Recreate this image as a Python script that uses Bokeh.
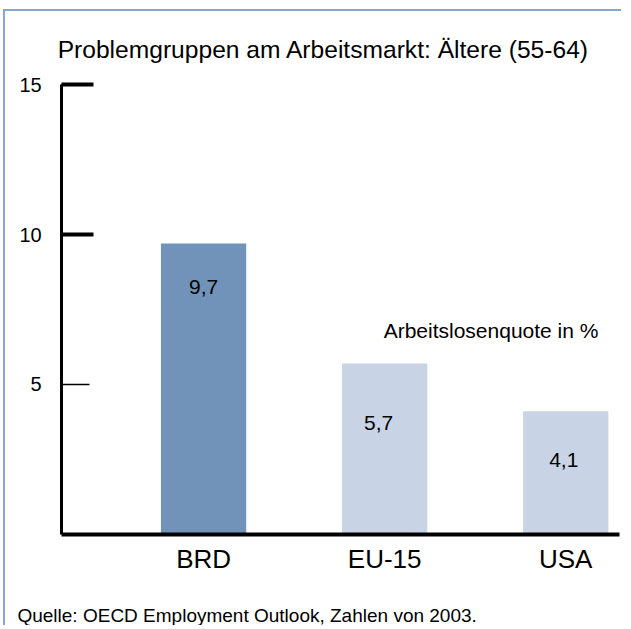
from bokeh.plotting import figure
from bokeh.models import ColumnDataSource, FixedTicker, Label, Range1d
from bokeh.core.properties import value
from bokeh.embed import file_html
from bokeh.resources import INLINE

# ---- data ----
categories = ["BRD", "EU-15", "USA"]
rates = [9.7, 5.7, 4.1]
rate_labels = ["9,7", "5,7", "4,1"]
bar_colors = ["#7192B9", "#C8D4E5", "#C8D4E5"]
y_ticks = [5, 10, 15]
y_heavy_ticks = [10, 15]
y_axis_span = (0, 15)

# label placement inside the bars (pixels)
label_dx = [0, -6, -2]
label_dy = [43, 60, 49]

title_text = "Problemgruppen am Arbeitsmarkt: Ältere (55-64)"
note_text = "Arbeitslosenquote in %"
source_text = "Quelle: OECD Employment Outlook, Zahlen von 2003."

FONT = "Liberation Sans"
xpos = list(range(len(categories)))

# view layout (data units): x axis spans AX0..AX1, whole canvas is the frame
AX0, AX1 = -0.784, 2.296

src = ColumnDataSource(dict(x=xpos, top=rates, label=rate_labels,
                            color=bar_colors, dx=label_dx, dy=label_dy))

p = figure(width=618, height=616, output_backend="svg", toolbar_location=None,
           x_range=Range1d(-1.094, 2.319), y_range=Range1d(-3.114, 17.444),
           min_border_left=0, min_border_right=0, min_border_top=0,
           min_border_bottom=0)
p.title.visible = False

p.styles = {"border-top": "2px solid #8AA5CF", "border-left": "2px solid #8AA5CF",
            "margin-left": "3px", "margin-top": "9px"}

p.background_fill_color = "white"
p.border_fill_color = "white"
p.outline_line_color = None
p.xgrid.visible = False
p.ygrid.visible = False

# title and source
p.add_layout(Label(x=-0.806, y=16.162, text=title_text, text_align="left",
                   text_baseline="alphabetic", text_font=FONT,
                   text_font_size="24.6px", text_color="black"))
p.add_layout(Label(x=-1.028, y=-2.70, text=source_text, text_align="left",
                   text_baseline="alphabetic", text_font=FONT,
                   text_font_size="19px", text_color="black"))

# bars
p.vbar(x="x", top="top", width=0.471, fill_color="color", line_color=None, source=src)

# value labels
p.text(x="x", y="top", text="label", x_offset="dx", y_offset="dy", source=src,
       text_align="center", text_baseline="middle", text_font=value(FONT),
       text_font_size="21px", text_color="black")

# note
p.add_layout(Label(x=xpos[1], y=6.8, x_offset=-1, text=note_text, text_align="left",
                   text_baseline="middle", text_font=FONT, text_font_size="21px",
                   text_color="black"))

# x axis (drawn at y = 0)
xa = p.xaxis[0]
xa.fixed_location = 0
xa.bounds = (AX0, AX1)
xa.ticker = FixedTicker(ticks=xpos)
xa.major_label_overrides = {i: c for i, c in zip(xpos, categories)}
xa.axis_line_width = 4
xa.axis_line_color = "black"
xa.major_tick_line_color = None
xa.minor_tick_line_color = None
xa.major_label_text_font = FONT
xa.major_label_text_font_size = "26px"
xa.major_label_text_color = "black"
xa.major_label_standoff = 4

# y axis (drawn at x = AX0)
ya = p.yaxis[0]
ya.fixed_location = AX0
ya.bounds = y_axis_span
ya.ticker = FixedTicker(ticks=y_ticks, minor_ticks=y_heavy_ticks)
ya.axis_line_width = 3
ya.axis_line_color = "black"
ya.major_tick_in = 28
ya.major_tick_out = 0
ya.major_tick_line_width = 1.5
ya.major_tick_line_color = "black"
ya.minor_tick_in = 32
ya.minor_tick_out = 0
ya.minor_tick_line_width = 4
ya.minor_tick_line_color = "black"
ya.major_label_text_font = FONT
ya.major_label_text_font_size = "20px"
ya.major_label_text_color = "black"
ya.major_label_standoff = 20

open("out.html", "w").write(file_html(p, INLINE))
